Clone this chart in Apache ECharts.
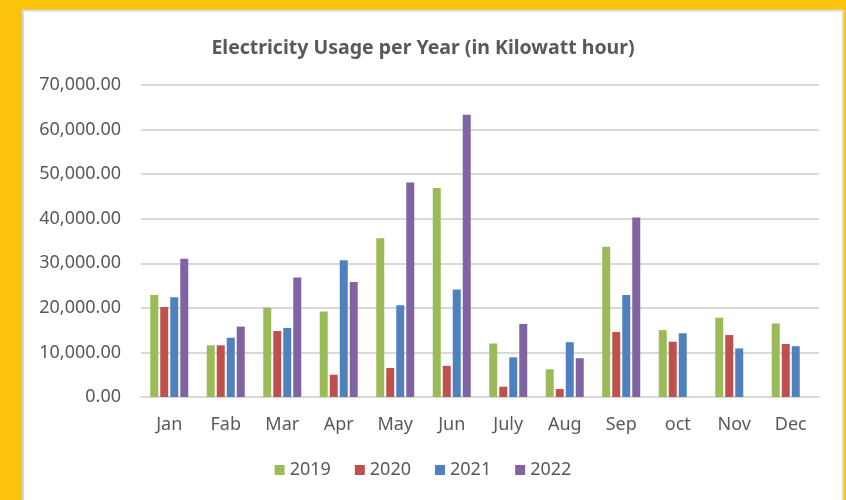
<!DOCTYPE html>
<html>
<head>
<meta charset="utf-8">
<title>Electricity Usage per Year</title>
<script src="https://cdn.jsdelivr.net/npm/echarts@6/dist/echarts.min.js"></script>
<style>
  html, body { margin: 0; padding: 0; background: #FCC30B; }
  #chart { width: 846px; height: 500px; }
</style>
</head>
<body>
<div id="chart"></div>
<script>
// months as labelled in the original chart
var months = ['Jan', 'Fab', 'Mar', 'Apr', 'May', 'Jun', 'July', 'Aug', 'Sep', 'oct', 'Nov', 'Dec'];
var years = ['2019', '2020', '2021', '2022'];

// kWh per month
var usage2019 = [22900, 11600, 20000, 19200, 35600, 46900, 12000, 6200, 33700, 15000, 17800, 16500];
var usage2020 = [20200, 11600, 14800, 5000, 6500, 7000, 2300, 1800, 14600, 12400, 13900, 11900];
var usage2021 = [22400, 13300, 15500, 30700, 20600, 24100, 8900, 12300, 22900, 14300, 10900, 11400];
var usage2022 = [31000, 15800, 26800, 25800, 48100, 63300, 16400, 8700, 40300, null, null, null];

var colors = ['#9BBB59', '#C0504D', '#4F81BD', '#8064A2'];
var font = 'Noto Sans';

var chart = echarts.init(document.getElementById('chart'));

function barSeries(name, data) {
  return {
    name: name,
    type: 'bar',
    barWidth: 8,
    barGap: '25%',
    data: data
  };
}

var option = {
  backgroundColor: '#FCC30B',
  color: colors,
  graphic: [{
    type: 'rect',
    z: -10,
    shape: { x: 23, y: 10.5, width: 820, height: 495 },
    style: { fill: '#fff', stroke: '#D9D9D9', lineWidth: 2 }
  }],
  title: {
    text: 'Electricity Usage per Year (in Kilowatt hour)',
    left: 'center',
    top: 33,
    textStyle: { fontFamily: font, fontSize: 19.5, fontWeight: 'bold', color: '#595959' }
  },
  legend: {
    data: years,
    bottom: 16,
    left: 'center',
    itemWidth: 10,
    itemHeight: 10,
    itemGap: 24,
    icon: 'rect',
    textStyle: { fontFamily: font, fontSize: 18, color: '#595959' }
  },
  grid: { left: 141, right: 27, top: 85, bottom: 103 },
  xAxis: {
    type: 'category',
    data: months,
    axisLine: { lineStyle: { color: '#D9D9D9', width: 2 } },
    axisTick: { show: false },
    axisLabel: { fontFamily: font, fontSize: 18, color: '#595959', margin: 19 }
  },
  yAxis: {
    type: 'value',
    min: 0,
    max: 70000,
    interval: 10000,
    axisLine: { show: false },
    axisTick: { show: false },
    splitLine: { lineStyle: { color: '#D9D9D9', width: 2 } },
    axisLabel: {
      fontFamily: font, fontSize: 18, color: '#595959', margin: 20,
      formatter: function (v) {
        return v.toLocaleString('en-US', { minimumFractionDigits: 2, maximumFractionDigits: 2 });
      }
    }
  },
  series: [
    barSeries('2019', usage2019),
    barSeries('2020', usage2020),
    barSeries('2021', usage2021),
    barSeries('2022', usage2022)
  ]
};

chart.setOption(option);
</script>
</body>
</html>
